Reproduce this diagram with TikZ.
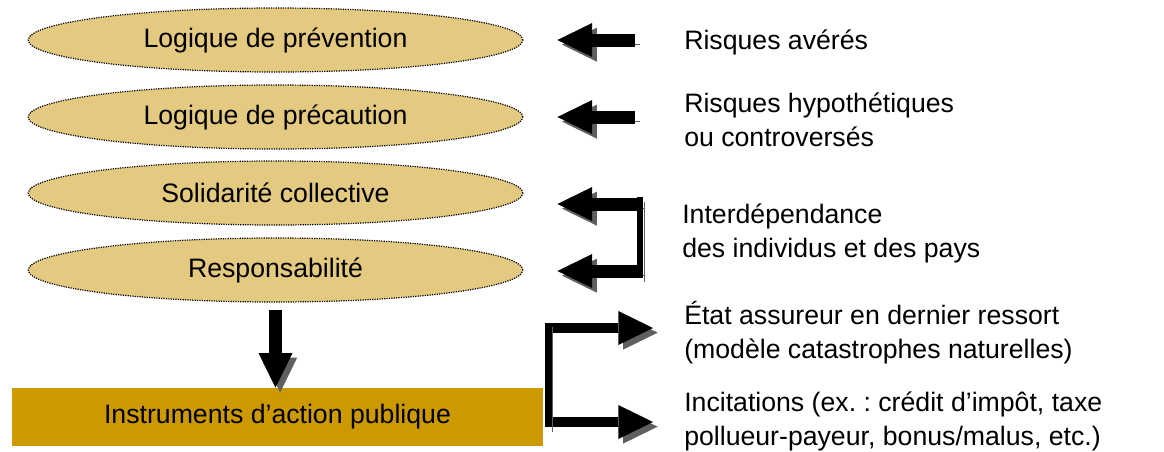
\documentclass[tikz,border=0pt]{standalone}
\usepackage{fontspec}
\setmainfont{Liberation Sans}
\usetikzlibrary{positioning,shapes.geometric,arrows.meta}
\definecolor{sable}{HTML}{E4CA80}
\definecolor{ocre}{HTML}{CC9900}
\definecolor{ombre}{HTML}{5F5F5F}
\frenchspacing

\begin{document}
\begin{tikzpicture}[x=0.75pt, y=-0.75pt,
  nodes = {inner sep=0pt, font=\fontsize{20}{25.5}\selectfont},
  logique/.style = {ellipse, draw, fill=sable, line width=0.9pt,
    dash pattern=on 0.9pt off 0.9pt,
    minimum width=371pt, minimum height=48pt},
  instr/.style = {fill=ocre, minimum width=398pt, minimum height=43.5pt},
  txt/.style = {anchor=west, align=left},
  ombrage/.style = {preaction={draw=ombre,
      transform canvas={shift={(3.5pt,-3.5pt)}}}},
  fleche/.style = {ombrage, line width=9.75pt,
    -{Triangle[width=25.5pt,length=26pt,line width=0pt]}}
  ]
  \useasboundingbox (0,0) rectangle (1164,451);

  % les quatre logiques
  \node (prevention) [logique] at (275.5,40)  {Logique de prévention};
  \node (precaution) [logique] at (275.5,117) {Logique de précaution};
  \node (solidarite) [logique] at (275.5,193) {Solidarité collective};
  \node (respons)    [logique] at (275.5,270) {Responsabilité};
  \node (instruments) [instr]  at (277.5,417) {Instruments d’action publique};

  % textes de droite
  \node (avere)    [txt] at (684,42)  {Risques avérés};
  \node (hypoth)   [txt] at (684,120) {Risques hypothétiques\\ou controversés};
  \node (interdep) [txt] at (682,233) {Interdépendance\\des individus et des pays};
  \node (etat)     [txt] at (684,333) {État assureur en dernier ressort\\(modèle catastrophes naturelles)};
  \node (incit)    [txt] at (684,421) {Incitations (ex. : crédit d’impôt, taxe\\pollueur-payeur, bonus/malus, etc.)};

  \coordinate (brg)  at (640,204);
  \coordinate (brg2) at (640,271);
  \coordinate (rg)   at (548,328);
  \coordinate (rg2)  at (548,422);

  \draw[fleche, shorten <=36.75pt, shorten >=25.5pt]
    (prevention.east -| avere.west) -- (prevention.east);
  \draw[fleche, shorten <=36.75pt, shorten >=25.5pt]
    (precaution.east -| hypoth.west) -- (precaution.east);
  \draw[fleche, shorten >=25.5pt] (brg) -- (brg -| solidarite.east);
  \draw[fleche, shorten >=25.5pt] (brg2) -- (brg2 -| respons.east);
  \draw[ombrage, line width=4.5pt]
    ([yshift=4.9pt]brg) -- ([yshift=-4.9pt]brg2);

  \draw[fleche, shorten <=5.25pt]
    (respons.south) -- (respons.south |- instruments.north);

  \draw[fleche, line width=8pt, shorten >=23.25pt] (rg) -- (rg -| etat.west);
  \draw[fleche, line width=8pt, shorten >=23.25pt] (rg2) -- (rg2 -| incit.west);
  \draw[ombrage, line width=5.25pt]
    ([yshift=3.9pt]rg) -- ([yshift=-3.9pt]rg2);
\end{tikzpicture}
\end{document}
